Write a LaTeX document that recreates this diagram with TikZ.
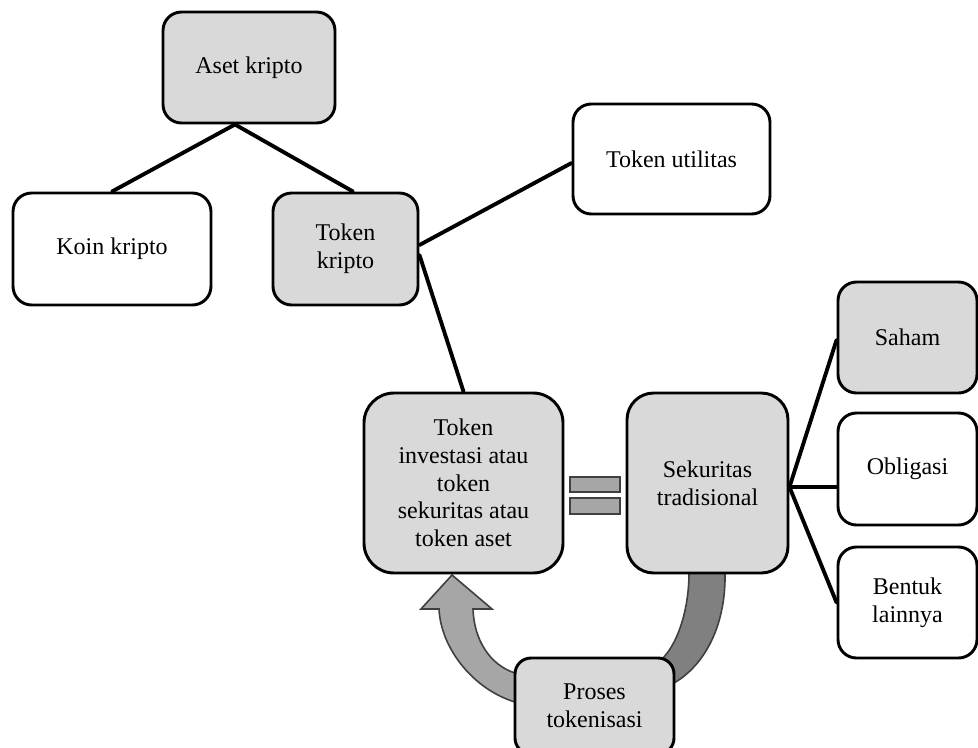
\documentclass[tikz,border=0pt]{standalone}
\usepackage{fontspec}
\setmainfont{Liberation Serif}
\usetikzlibrary{calc}
\pgfdeclarelayer{back}
\pgfsetlayers{back,main}
\definecolor{boxgray}{HTML}{D9D9D9}
\definecolor{arrowlight}{HTML}{A6A6A6}
\definecolor{arrowdark}{HTML}{808080}
\definecolor{edgegray}{HTML}{404040}

\begin{document}
\begin{tikzpicture}[x=0.75pt,y=-0.75pt,
  box/.style={draw=black, line width=2.2pt, inner sep=0pt, align=center,
    font=\fontsize{18}{20.8}\selectfont},
  shaded/.style={box, fill=boxgray},
  plain/.style={box, fill=white},
  link/.style={draw=black, line width=2.9pt, line cap=round},
  band/.style={draw=edgegray, line width=1.2pt, line join=miter},
  eqbar/.style={draw=edgegray, fill=arrowlight, line width=2.2pt}]

\useasboundingbox (0,0) rectangle (978,747);

% crypto asset tree
\node[shaded, minimum width=129pt, minimum height=83.25pt, rounded corners=13.9pt] (aset) at (249,67.5) {Aset kripto};
\node[plain, minimum width=148.5pt, minimum height=84pt, rounded corners=14pt] (koin) at (112,249) {Koin kripto};
\node[shaded, minimum width=108.75pt, minimum height=84pt, rounded corners=14pt] (tkripto) at (345.5,249) {Token\\kripto};
\node[plain, minimum width=147.75pt, minimum height=82.5pt, rounded corners=13.75pt] (tutil) at (671.5,159) {Token utilitas};
\node[shaded, minimum width=149.25pt, minimum height=135pt, rounded corners=22.5pt] (tinvest) at (463.5,483) {Token\\investasi atau\\token\\sekuritas atau\\token aset};
\node[shaded, minimum width=120.75pt, minimum height=135pt, rounded corners=20pt] (sekur) at (707.5,483) {Sekuritas\\tradisional};
\node[shaded, minimum width=104.25pt, minimum height=83.25pt, rounded corners=13.9pt] (saham) at (907.5,337.5) {Saham};
\node[plain, minimum width=104.25pt, minimum height=84pt, rounded corners=13.9pt] (oblig) at (907.5,469) {Obligasi};
\node[plain, minimum width=104.25pt, minimum height=83.25pt, rounded corners=13.9pt] (bentuk) at (907.5,602.5) {Bentuk\\lainnya};
\node[shaded, minimum width=119.25pt, minimum height=72pt, rounded corners=12pt] (proses) at (594.5,706) {Proses\\tokenisasi};

% connectors
\draw[link] ($(aset.south)+(-14,0)$) -- (koin.north);
\draw[link] ($(aset.south)+(-14,0)$) -- ($(tkripto.north)+(7.5,0)$);
\draw[link] ($(tkripto.east)+(0,-4)$) -- ($(tutil.west)+(0,4)$);
\draw[link] ($(tkripto.east)+(0,6)$) -- (tinvest.north);
\draw[link] ($(sekur.east)+(0,4)$) -- ($(saham.west)+(0,2.5)$);
\draw[link] ($(sekur.east)+(0,4)$) -- ($(oblig.west)+(0,18)$);
\draw[link] ($(sekur.east)+(0,4)$) -- (bentuk.west);

% equals sign between the two boxes
\draw[eqbar] (570,477) rectangle (620,492);
\draw[eqbar] (570,498) rectangle (620,514);

% tokenisation cycle arrow, behind the boxes
\begin{pgfonlayer}{back}
\draw[band, fill=arrowdark] (725,560) -- (725,573)
  .. controls (726,625) and (705,665) .. (674,683)
  -- (650,690) -- (655,665) -- (663,658)
  .. controls (680,640) and (689,605) .. (689,573)
  -- (689,560) -- cycle;
\draw[band, fill=arrowlight] (540,712) -- (515,702)
  .. controls (475,690) and (441,650) .. (439,609)
  -- (421,609) -- (452,575) -- (492,609) -- (473,609)
  .. controls (474,640) and (490,665) .. (515,673)
  -- (540,680) -- cycle;
\end{pgfonlayer}
\end{tikzpicture}
\end{document}
